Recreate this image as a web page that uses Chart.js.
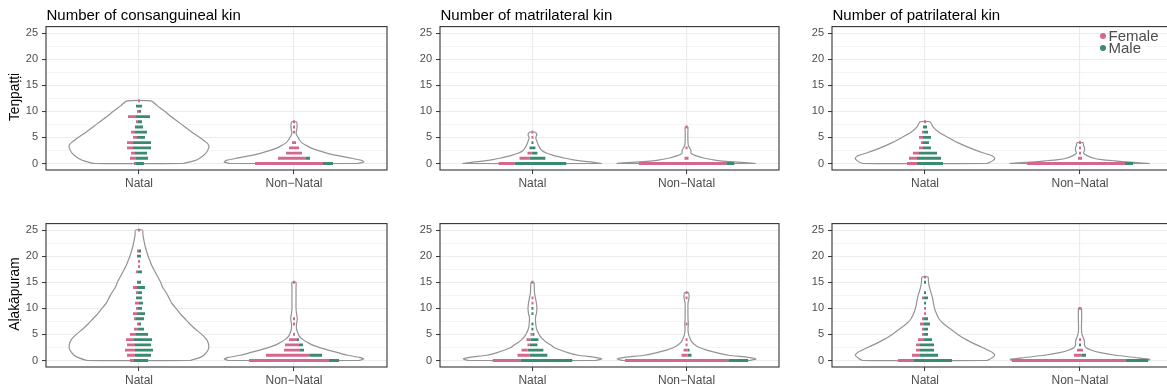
<!DOCTYPE html>
<html>
<head>
<meta charset="utf-8">
<script src="https://cdn.jsdelivr.net/npm/chart.js@4.4.1/dist/chart.umd.min.js"></script>
<style>
html,body{margin:0;padding:0;background:#fff;}
body{position:relative;width:1167px;height:389px;overflow:hidden;font-family:"Liberation Sans",Arial,Helvetica,sans-serif;}
.box{position:absolute;}
.box canvas{display:block;}
.ptitle{position:absolute;font-size:15px;line-height:15px;color:#000;white-space:nowrap;}
.rlab{position:absolute;font-size:13.75px;line-height:14px;color:#000;white-space:nowrap;transform:translate(-50%,-50%) rotate(-90deg);}
.leg{position:absolute;font-size:15px;line-height:15px;color:#4D4D4D;white-space:nowrap;}
.dot{position:absolute;width:6px;height:6px;border-radius:50%;}
</style>
</head>
<body>
<script>
// ---------------- DATA ----------------
const categories = ['Natal', 'Non\u2212Natal'];
const panelTitles = ['Number of consanguineal kin', 'Number of matrilateral kin', 'Number of patrilateral kin'];
const rowLabels = ['Te\u014bpa\u1e6d\u1e6di', 'A\u1e37ak\u0101puram'];
const sexes = ['Female', 'Male'];
const yTicks = [0, 5, 10, 15, 20, 25];

// counts of individuals per value (index = number of kin)
const consTenNatalF = [1,3,2,3,3,2,2,0,1,4,1,0,1];
const consTenNatalM = [4,6,6,9,9,4,6,4,2,7,1,3,0];
const consTenNonF   = [34,14,8,5,2,0,1,1,1];
const consTenNonM   = [5,2,0,0,0,0,0,0,0];
const matTenNatalF  = [8,5,2,0,0,1,1];
const matTenNatalM  = [26,8,3,3,1,0,0];
const matTenNonF    = [44,2,0,1,0,0,0,1];
const matTenNonM    = [4,0,0,0,0,0,0,0];
const patTenNatalF  = [5,4,3,2,1,2,1,0,1];
const patTenNatalM  = [13,12,9,4,3,4,2,2,0];
const patTenNonF    = [49,2,1,1,1];
const patTenNonM    = [4,0,0,0,0];
const consAlaNatalF = [2,4,5,4,4,3,2,1,1,2,1,2,0,1,2,0,0,1,1,1,0,1,0,0,0,1];
const consAlaNatalM = [7,8,9,8,9,6,3,1,4,4,2,2,3,2,4,2,0,2,0,0,2,1,0,0,0,0];
const consAlaNonF   = [40,22,8,7,4,1,0,1,1,0,0,0,0,0,0,1];
const consAlaNonM   = [5,6,2,2,1,0,0,0,0,0,0,0,0,0,0,0];
const matAlaNatalF  = [14,6,3,1,2,1,0,0,0,0,0,1,1,0,0,1];
const matAlaNatalM  = [26,9,8,4,4,1,1,1,0,1,1,0,0,0,0,0];
const matAlaNonF    = [52,3,2,1,1,0,0,1,0,0,0,0,1,1];
const matAlaNonM    = [10,2,1,0,0,0,0,0,0,0,0,0,0,0];
const patAlaNatalF  = [8,4,2,2,3,1,1,2,1,1,1,0,1,0,0,0,1];
const patAlaNatalM  = [19,9,7,7,4,2,2,3,2,0,0,1,2,1,0,1,0];
const patAlaNonF    = [57,4,3,0,1,0,0,0,0,0,1];
const patAlaNonM    = [11,2,0,1,0,0,0,0,0,0,0];

// violin density profiles: [value, relative width (max = 1)]
const consTenNatalV = [[0,0.63],[0.5,0.79],[1,0.87],[2,0.96],[3,1],[3.5,1],[4,0.97],[5,0.87],[6,0.76],[7,0.66],[8,0.56],[9,0.46],[10,0.37],[11,0.27],[12,0.17]];
const consTenNonV   = [[0,0.91],[0.3,1],[0.6,0.97],[1,0.83],[1.5,0.63],[2,0.47],[2.5,0.34],[3,0.24],[3.5,0.17],[4,0.11],[4.5,0.08],[5,0.057],[5.5,0.036],[6,0.031],[6.5,0.04],[7,0.043],[7.5,0.043],[8,0.036]];
const matTenNatalV  = [[0,1],[0.25,0.86],[0.5,0.69],[0.75,0.57],[1,0.47],[1.5,0.31],[2,0.2],[2.5,0.136],[3,0.107],[3.5,0.086],[4,0.071],[4.5,0.057],[5,0.047],[5.5,0.064],[6,0.043]];
const matTenNonV    = [[0,1],[0.2,0.79],[0.4,0.57],[0.6,0.43],[1,0.26],[1.5,0.13],[2,0.064],[2.5,0.064],[3,0.043],[3.5,0.026],[4,0.021],[5,0.019],[6,0.019],[7,0.019]];
const patTenNatalV  = [[0,0.89],[0.5,0.97],[1,1],[1.5,0.96],[2,0.84],[3,0.64],[4,0.47],[5,0.33],[6,0.2],[7,0.114],[8,0.071]];
const patTenNonV    = [[0,1],[0.25,0.71],[0.5,0.5],[0.75,0.31],[1,0.2],[1.5,0.1],[2,0.05],[2.5,0.064],[3,0.064],[3.5,0.05],[4,0.043]];
const consAlaNatalV = [[0,0.73],[0.5,0.86],[1,0.93],[2,0.99],[3,1],[4,0.97],[5,0.9],[6,0.81],[7,0.73],[8,0.66],[9,0.59],[10,0.53],[11,0.47],[12,0.43],[13,0.39],[14,0.34],[15,0.31],[16,0.27],[17,0.23],[18,0.19],[19,0.16],[20,0.13],[21,0.107],[22,0.086],[23,0.071],[24,0.057],[25,0.05]];
const consAlaNonV   = [[0,0.93],[0.3,1],[0.6,0.94],[1,0.77],[1.5,0.63],[2,0.49],[2.5,0.36],[3,0.26],[3.5,0.19],[4,0.13],[4.5,0.086],[5,0.064],[5.5,0.05],[6,0.036],[7,0.036],[7.5,0.043],[8,0.047],[8.5,0.043],[9,0.036],[10,0.029],[12,0.029],[14,0.029],[15,0.029]];
const matAlaNatalV  = [[0,0.91],[0.3,1],[0.6,0.9],[1,0.66],[1.5,0.51],[2,0.4],[2.5,0.31],[3,0.26],[3.5,0.2],[4,0.157],[4.5,0.121],[5,0.096],[6,0.061],[7,0.047],[8,0.043],[8.5,0.047],[9,0.057],[10,0.064],[11,0.057],[12,0.043],[13,0.029],[14,0.026],[15,0.021]];
const matAlaNonV    = [[0,0.91],[0.3,1],[0.6,0.89],[1,0.61],[1.5,0.43],[2,0.29],[2.5,0.186],[3,0.119],[3.5,0.079],[4,0.057],[4.5,0.043],[5,0.029],[6,0.021],[7,0.026],[8,0.021],[11,0.021],[12,0.036],[12.5,0.036],[13,0.029]];
const patAlaNatalV  = [[0,0.89],[0.5,0.96],[1,1],[1.5,0.97],[2,0.9],[3,0.74],[4,0.59],[5,0.47],[6,0.37],[7,0.27],[8,0.2],[9,0.164],[10,0.136],[11,0.121],[12,0.107],[13,0.086],[14,0.064],[15,0.05],[16,0.043]];
const patAlaNonV    = [[0,0.97],[0.2,1],[0.5,0.83],[1,0.51],[1.5,0.29],[2,0.157],[2.5,0.086],[3,0.064],[3.5,0.064],[4,0.057],[4.5,0.043],[5,0.029],[6,0.021],[10,0.021]];

// panels: rows x columns, each with [female, male, violin] per category
const panels = [
  [
    [[consTenNatalF, consTenNatalM, consTenNatalV], [consTenNonF, consTenNonM, consTenNonV]],
    [[matTenNatalF, matTenNatalM, matTenNatalV], [matTenNonF, matTenNonM, matTenNonV]],
    [[patTenNatalF, patTenNatalM, patTenNatalV], [patTenNonF, patTenNonM, patTenNonV]]
  ],
  [
    [[consAlaNatalF, consAlaNatalM, consAlaNatalV], [consAlaNonF, consAlaNonM, consAlaNonV]],
    [[matAlaNatalF, matAlaNatalM, matAlaNatalV], [matAlaNonF, matAlaNonM, matAlaNonV]],
    [[patAlaNatalF, patAlaNatalM, patAlaNatalV], [patAlaNonF, patAlaNonM, patAlaNonV]]
  ]
];

// ---------------- STYLE / LAYOUT ----------------
const COLORS = {Female: '#D4678F', Male: '#398A6E'};
const VIOLIN_COLOR = '#939393';
const HALF_W = 0.45;     // violin half width in category units
const DOT_W = 0.0129;    // width per individual in category units
const COL_X = [[46, 387], [440, 779], [832, 1173]];
const ROW_Y = [[24, 170], [221, 367]];
const YW = 46, PAD_T = 8, PAD_R = 6, XH = 24;
const gridVals = [];
for (let i = 0; i < yTicks.length; i++) {
  gridVals.push(yTicks[i]);
  if (i < yTicks.length - 1) gridVals.push((yTicks[i] + yTicks[i + 1]) / 2);
}

Chart.defaults.font.family = '"Liberation Sans", Arial, Helvetica, sans-serif';

const framePlugin = {
  id: 'frame',
  afterDraw(chart) {
    const {ctx, chartArea: a} = chart;
    ctx.save();
    ctx.strokeStyle = '#333333';
    ctx.lineWidth = 1.1;
    ctx.strokeRect(a.left, a.top, a.right - a.left, a.bottom - a.top);
    ctx.restore();
  }
};

function violinPoints(profile, c) {
  const right = profile.map(([y, w]) => ({x: c + w * HALF_W, y}));
  const left = profile.slice().reverse().map(([y, w]) => ({x: c - w * HALF_W, y}));
  return right.concat(left, [right[0]]);
}

function stripePoints(F, M, c, sex) {
  const pts = [];
  const n = Math.max(F.length, M.length);
  for (let y = 0; y < n; y++) {
    const f = F[y] || 0, m = M[y] || 0, tot = f + m;
    if (!tot) continue;
    const x0 = c - tot * DOT_W / 2;
    if (sex === 'Female' && f) pts.push({x: x0, y}, {x: x0 + f * DOT_W, y}, {x: NaN, y: NaN});
    if (sex === 'Male' && m) pts.push({x: x0 + f * DOT_W, y}, {x: x0 + tot * DOT_W, y}, {x: NaN, y: NaN});
  }
  return pts;
}

const isMajor = v => yTicks.includes(v);

function makePanel(r, c) {
  const [x0, x1] = COL_X[c], [y0, y1] = ROW_Y[r];
  const w = YW + (x1 - x0) + PAD_R, h = PAD_T + (y1 - y0) + XH;
  const box = document.createElement('div');
  box.className = 'box';
  box.style.left = (x0 - YW) + 'px';
  box.style.top = (y0 - PAD_T) + 'px';
  box.style.width = w + 'px';
  box.style.height = h + 'px';
  const cv = document.createElement('canvas');
  cv.width = w; cv.height = h;
  cv.style.width = w + 'px'; cv.style.height = h + 'px';
  box.appendChild(cv);
  document.body.appendChild(box);

  const datasets = [];
  panels[r][c].forEach(([F, M, V], ci) => {
    const cx = ci + 1;
    datasets.push({
      data: violinPoints(V, cx), showLine: true, pointRadius: 0, borderColor: VIOLIN_COLOR,
      borderWidth: 1.2, backgroundColor: '#ffffff', fill: 'shape', tension: 0.2, order: 2
    });
    sexes.forEach(sex => {
      datasets.push({
        data: stripePoints(F, M, cx, sex), showLine: true, spanGaps: false, pointRadius: 0,
        borderColor: COLORS[sex], borderWidth: 2.8, borderCapStyle: 'butt', fill: false, order: 1
      });
    });
  });

  new Chart(cv, {
    type: 'scatter',
    data: {datasets},
    options: {
      responsive: false, animation: false, devicePixelRatio: 1,
      layout: {padding: {top: PAD_T, right: PAD_R, left: 0, bottom: 0}, autoPadding: false},
      plugins: {legend: {display: false}, tooltip: {enabled: false}, title: {display: false}},
      scales: {
        x: {
          type: 'linear', min: 0.4, max: 2.6,
          afterBuildTicks: s => { s.ticks = categories.map((_, i) => ({value: i + 1})); },
          afterFit: s => { s.height = XH; },
          ticks: {autoSkip: false, maxRotation: 0, minRotation: 0, padding: 2, color: '#4D4D4D',
                  font: {size: 12}, callback: v => categories[Math.round(v) - 1] || ''},
          grid: {color: '#EBEBEB', lineWidth: 1.1, tickLength: 4, tickColor: '#333333', tickWidth: 1},
          border: {display: false}
        },
        y: {
          type: 'linear', min: -1.25, max: 26.25,
          afterBuildTicks: s => { s.ticks = gridVals.map(v => ({value: v})); },
          afterFit: s => { s.width = YW; },
          ticks: {autoSkip: false, padding: 4, color: '#4D4D4D', font: {size: 11},
                  callback: v => isMajor(v) ? String(v) : ''},
          grid: {
            color: '#EBEBEB',
            lineWidth: ctx => (ctx.tick && isMajor(ctx.tick.value)) ? 1.1 : 0.55,
            tickLength: 4,
            tickColor: ctx => (ctx.tick && isMajor(ctx.tick.value)) ? '#333333' : 'rgba(0,0,0,0)',
            tickWidth: 1
          },
          border: {display: false}
        }
      }
    },
    plugins: [framePlugin]
  });
}

for (let r = 0; r < 2; r++) for (let c = 0; c < 3; c++) makePanel(r, c);

// titles
panelTitles.forEach((t, c) => {
  const d = document.createElement('div');
  d.className = 'ptitle';
  d.textContent = t;
  d.style.left = (COL_X[c][0] + 0.5) + 'px';
  d.style.top = '7px';
  document.body.appendChild(d);
});
rowLabels.forEach((t, r) => {
  const d = document.createElement('div');
  d.className = 'rlab';
  d.textContent = t;
  d.style.left = '15px';
  d.style.top = ((ROW_Y[r][0] + ROW_Y[r][1]) / 2) + 'px';
  document.body.appendChild(d);
});
// legend
sexes.forEach((s, i) => {
  const cy = 35.7 + i * 12.6;
  const dot = document.createElement('div');
  dot.className = 'dot';
  dot.style.background = COLORS[s];
  dot.style.left = (1103 - 3) + 'px';
  dot.style.top = (cy - 3) + 'px';
  document.body.appendChild(dot);
  const tx = document.createElement('div');
  tx.className = 'leg';
  tx.textContent = s;
  tx.style.left = '1108.5px';
  tx.style.top = (cy - 8) + 'px';
  document.body.appendChild(tx);
});
</script>
</body>
</html>
